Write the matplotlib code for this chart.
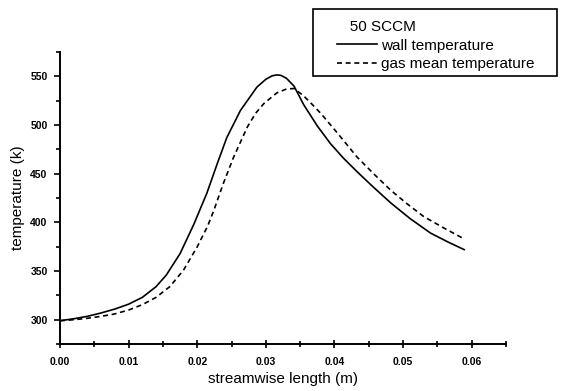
import numpy as np
import matplotlib
matplotlib.use("Agg")
import matplotlib.pyplot as plt
from matplotlib.ticker import MultipleLocator
from matplotlib.patches import Rectangle

plt.rcParams['font.family'] = ['Liberation Sans', 'DejaVu Sans']

# streamwise position (m) and temperature (K)
wall_x = [0.000, 0.002, 0.004, 0.006, 0.008, 0.010, 0.012, 0.014, 0.0155,
          0.0175, 0.0195, 0.0214, 0.0229, 0.0243, 0.0263, 0.0287, 0.0300,
          0.0309, 0.0316, 0.0322, 0.0330, 0.0341, 0.0355, 0.0375, 0.0394,
          0.0413, 0.0433, 0.0457, 0.0482, 0.0510, 0.0540, 0.0565, 0.0589]
wall_T = [299, 301, 303.5, 307, 311, 316, 323, 334, 346,
          368, 398, 430, 460, 487, 515, 539, 547,
          550.5, 551.5, 551, 548, 540, 521, 499, 481,
          466, 452, 436, 420, 404, 389, 380, 372]

gas_x = [0.000, 0.002, 0.004, 0.006, 0.008, 0.010, 0.012, 0.014, 0.016,
         0.018, 0.020, 0.0215, 0.0224, 0.0238, 0.0253, 0.0273, 0.0285,
         0.0297, 0.0316, 0.0330, 0.0341, 0.0355, 0.0365, 0.0380, 0.0404,
         0.0433, 0.0457, 0.0482, 0.0506, 0.0530, 0.0560, 0.0589]
gas_T = [299, 300, 301.5, 303.5, 306, 310, 315.5, 323, 334,
         351, 375, 396, 412, 440, 467, 498, 512,
         522, 533, 537, 537.5, 530, 523, 512, 492,
         467, 450, 433, 419, 406, 394, 383]

fig = plt.figure(figsize=(5.61, 3.91), dpi=100)
ax = fig.add_axes([0.107, 0.12, 0.795, 0.747])

ax.plot(wall_x, wall_T, color='black', lw=1.2, label='wall temperature')
ax.plot(gas_x, gas_T, color='black', lw=1.2, ls=(0, (3, 2.2)),
        label='gas mean temperature')

ax.set_xlim(0, 0.065)
ax.set_ylim(275, 575)
ax.xaxis.set_major_locator(MultipleLocator(0.01))
ax.xaxis.set_minor_locator(MultipleLocator(0.005))
ax.yaxis.set_major_locator(MultipleLocator(50))
ax.yaxis.set_minor_locator(MultipleLocator(25))
ax.xaxis.set_major_formatter(plt.FormatStrFormatter('%.2f'))

for s in ['top', 'right']:
    ax.spines[s].set_visible(False)
for s in ['left', 'bottom']:
    ax.spines[s].set_linewidth(1.4)

ax.tick_params(axis='y', which='both', direction='out', width=1.2, pad=5)
ax.tick_params(axis='y', which='major', length=4)
ax.tick_params(axis='y', which='minor', length=3)
ax.tick_params(axis='x', which='both', direction='inout', width=1.2)
ax.tick_params(axis='x', which='major', length=6, pad=6)
ax.tick_params(axis='x', which='minor', length=4)
for lab in ax.get_xticklabels() + ax.get_yticklabels():
    lab.set_fontsize(7.5)
    lab.set_fontweight('bold')

ax.set_xlabel('streamwise length (m)', fontsize=11, labelpad=4)
ax.set_ylabel('temperature (k)', fontsize=11, labelpad=4)

# legend box drawn separately so the padding matches the original
fig.patches.append(Rectangle((313 / 561, 1 - 76 / 391), 244 / 561, 67 / 391,
                             transform=fig.transFigure, fill=False,
                             edgecolor='black', lw=1.2))
leg = fig.legend(loc='upper left', bbox_to_anchor=(337 / 561, 1 - 20 / 391),
                 title='   50 SCCM', fontsize=11, title_fontsize=11,
                 frameon=False, handlelength=2.6, handletextpad=0.25,
                 borderpad=0, borderaxespad=0, labelspacing=0.3,
                 alignment='left')

fig.savefig('out.png', dpi=100)
